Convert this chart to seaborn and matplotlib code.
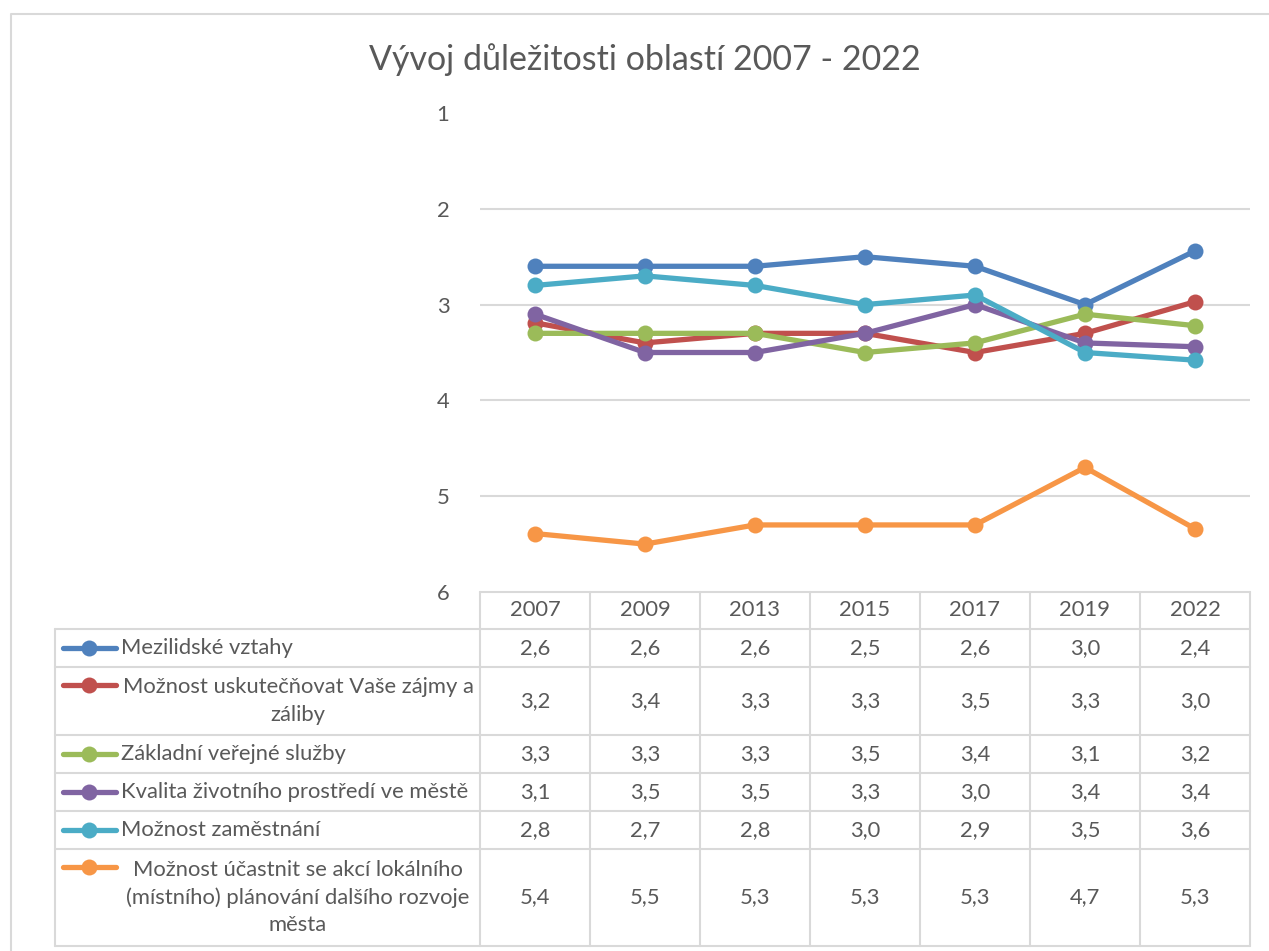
import numpy as np
import pandas as pd
import seaborn as sns
import matplotlib.pyplot as plt

years = ["2007", "2009", "2013", "2015", "2017", "2019", "2022"]
series_names = [
    "Mezilidské vztahy",
    "Možnost uskutečňovat Vaše zájmy a\nzáliby",
    "Základní veřejné služby",
    "Kvalita životního prostředí ve městě",
    "Možnost zaměstnání",
    "Možnost účastnit se akcí lokálního\n(místního) plánování dalšího rozvoje\nměsta",
]
mezilidske = [2.6, 2.6, 2.6, 2.5, 2.6, 3.0, 2.44]
zajmy = [3.19, 3.4, 3.3, 3.3, 3.5, 3.3, 2.97]
sluzby = [3.3, 3.3, 3.3, 3.5, 3.4, 3.1, 3.22]
prostredi = [3.1, 3.5, 3.5, 3.3, 3.0, 3.4, 3.44]
zamestnani = [2.8, 2.7, 2.8, 3.0, 2.9, 3.5, 3.58]
planovani = [5.39, 5.5, 5.3, 5.3, 5.3, 4.7, 5.34]
colors = ["#4F81BD", "#C0504D", "#9BBB59", "#8064A2", "#4BACC6", "#F79646"]

all_values = [mezilidske, zajmy, sluzby, prostredi, zamestnani, planovani]

rows = []
for name, vals in zip(series_names, all_values):
    for i, v in enumerate(vals):
        rows.append({"serie": name, "rok": i, "hodnota": v})
df = pd.DataFrame(rows)

sns.set_style("white")
plt.rcParams["font.family"] = ["Lato", "DejaVu Sans"]
txt = "#595959"
grid = "#D9D9D9"
fs = 15.8

W, H = 1269, 951
fig = plt.figure(figsize=(W / 100, H / 100), dpi=100)

# table / frame layer in pixel coordinates
bg = fig.add_axes([0, 0, 1, 1])
bg.set_xlim(0, W)
bg.set_ylim(H, 0)
bg.axis("off")

# chart area border
bg.plot([11, 11, W], [H, 14, 14], color=grid, lw=1.5)

# plot area
x0, x1 = 480, 1250
y_top, y_bot = 113, 592
ax = fig.add_axes([x0 / W, 1 - y_bot / H, (x1 - x0) / W, (y_bot - y_top) / H])
sns.lineplot(data=df, x="rok", y="hodnota", hue="serie", palette=colors,
             marker="o", markersize=11.5, markeredgewidth=0, linewidth=3.8,
             legend=False, ax=ax)
ax.set_xlim(-0.5, len(years) - 0.5)
ax.set_ylim(6, 1)
ax.set_yticks([1, 2, 3, 4, 5, 6])
ax.set_yticklabels(["1", "2", "3", "4", "5", "6"], color=txt, fontsize=fs)
ax.tick_params(axis="y", length=0, pad=22)
ax.set_xticks([])
ax.set_xlabel("")
ax.set_ylabel("")
for s in ax.spines.values():
    s.set_visible(False)
for g in [2, 3, 4, 5]:
    ax.axhline(g, color=grid, lw=1.5, zorder=0)
ax.patch.set_alpha(0)

fig.text(0.5 * (373 + 916) / W, 1 - 60 / H, "Vývoj důležitosti oblastí 2007 - 2022",
         ha="center", va="center", fontsize=24.5, color=txt)

# data table
col_w = (x1 - x0) / len(years)
row_edges = [592, 629, 667, 735, 773, 811, 849, 946]
leg_left = 55

# header row
for i, yr in enumerate(years):
    bg.text(x0 + col_w * (i + 0.5), (row_edges[0] + row_edges[1]) / 2, yr,
            ha="center", va="center", fontsize=fs, color=txt)

# horizontal lines
bg.plot([x0, x1], [row_edges[0], row_edges[0]], color=grid, lw=1.5)
for r in row_edges[1:]:
    bg.plot([leg_left, x1], [r, r], color=grid, lw=1.5)
# vertical lines
for i in range(len(years) + 1):
    bg.plot([x0 + col_w * i] * 2, [row_edges[0], row_edges[-1]], color=grid, lw=1.5)
bg.plot([leg_left, leg_left], [row_edges[1], row_edges[-1]], color=grid, lw=1.5)

for k, (name, vals) in enumerate(zip(series_names, all_values)):
    ya, yb = row_edges[k + 1], row_edges[k + 2]
    yc = (ya + yb) / 2
    ym = yc if "\n" not in name else ya + 18
    bg.plot([63, 116], [ym, ym], color=colors[k], lw=3.8, solid_capstyle="round")
    bg.plot([89], [ym], marker="o", markersize=11.5, markeredgewidth=0, color=colors[k])
    if "\n" in name:
        bg.text(298, yc, name, ha="center", va="center", multialignment="center",
                fontsize=fs, color=txt, linespacing=1.45)
    else:
        bg.text(121, yc, name, ha="left", va="center", fontsize=fs, color=txt)
    for i, v in enumerate(vals):
        lab = f"{v:.1f}".replace(".", ",")
        bg.text(x0 + col_w * (i + 0.5), yc, lab, ha="center", va="center",
                fontsize=fs, color=txt)

fig.savefig("out.png", dpi=100)
